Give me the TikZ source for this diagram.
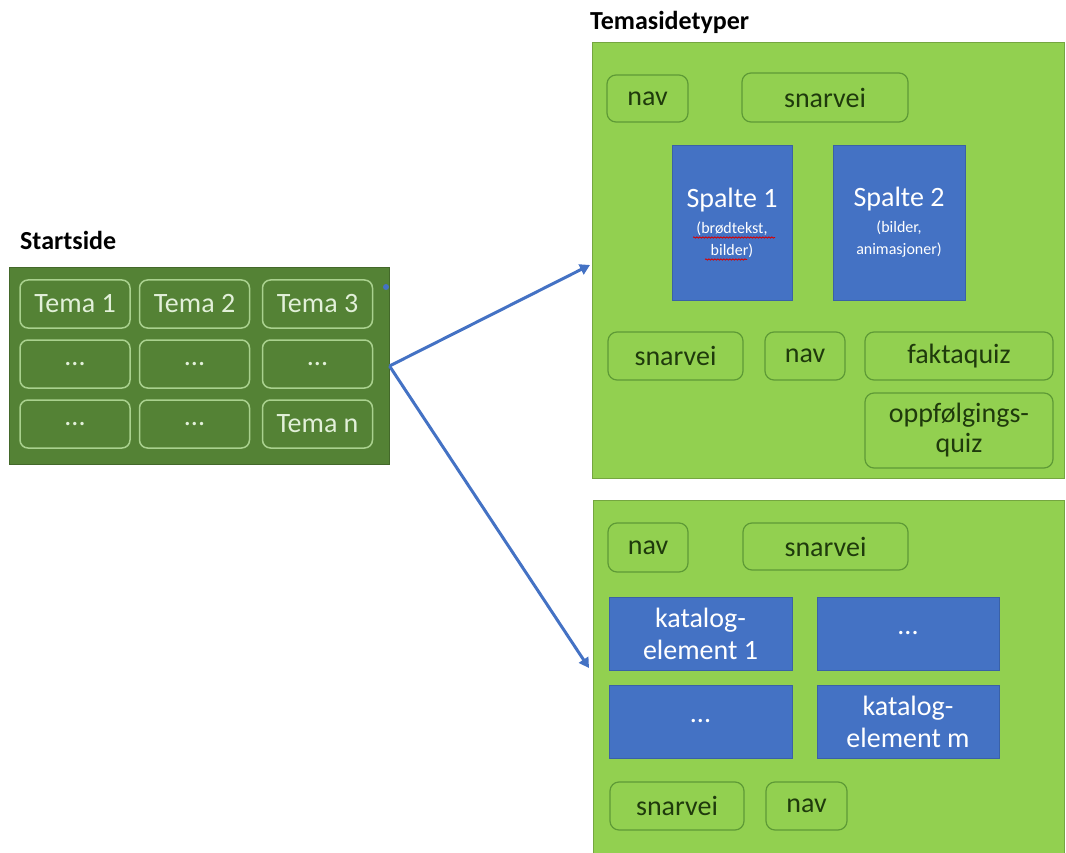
\documentclass[tikz,border=0pt]{standalone}
\usepackage{fontspec}
\setmainfont{Carlito}
\usetikzlibrary{arrows.meta,decorations.pathmorphing}
\definecolor{dkgreen}{HTML}{548235}
\definecolor{ltgreen}{HTML}{92D050}
\definecolor{blu}{HTML}{4472C4}
\definecolor{cellline}{HTML}{A9D18E}
\definecolor{celltext}{HTML}{E2F0D9}
\definecolor{boxtext}{HTML}{1F3A0C}
\definecolor{boxline}{HTML}{5E9A36}
\tikzset{
  panel/.style={draw=#1!80!black, fill=#1, line width=1pt, inner sep=0pt},
  heading/.style={anchor=west, font=\fontsize{26}{30}\selectfont\bfseries, inner sep=0pt},
  cell/.style={draw=cellline, rounded corners=8pt, line width=1.5pt, text=celltext,
    font=\fontsize{28}{30}\selectfont, inner sep=0pt},
  tag/.style={draw=boxline, rounded corners=9pt, line width=1.2pt, text=boxtext,
    font=\fontsize{28}{30}\selectfont, inner sep=0pt, align=center},
  blk/.style={fill=blu, draw=blu!85!black, line width=0.6pt, text=white,
    font=\fontsize{28}{32}\selectfont, inner sep=0pt, align=center},
  small/.style={},
  link/.style={draw=blu, line width=3pt, -{Triangle[length=10pt,width=11pt]}},
  squiggle/.style={draw=red!85!black, line width=0.8pt,
    decorate, decoration={snake, amplitude=0.7pt, segment length=3pt}}
}
\newcommand\smalltxt[1]{{\fontsize{16}{18}\selectfont #1}}
\begin{document}
\begin{tikzpicture}[x=1pt,y=-1pt]
\useasboundingbox (0,0) rectangle (1066,853);
\begin{scope}
\clip (0,0) rectangle (1066,853);
% headings
\node[heading] (lstart) at (20,240) {Startside};
\node[heading] (ltema) at (590,22) {Temasidetyper};

% start page
\node[panel=dkgreen, minimum width=380pt, minimum height=196pt] (start) at (199,366) {};
\node[cell, minimum width=110pt, minimum height=48pt] (c11) at (75,304) {Tema 1};
\node[cell, minimum width=110pt, minimum height=48pt] (c12) at (194.5,304) {Tema 2};
\node[cell, minimum width=110pt, minimum height=48pt] (c13) at (317.5,304) {Tema 3};
\node[cell, minimum width=110pt, minimum height=48pt] (c21) at (75,364) {...};
\node[cell, minimum width=110pt, minimum height=48pt] (c22) at (194.5,364) {...};
\node[cell, minimum width=110pt, minimum height=48pt] (c23) at (317.5,364) {...};
\node[cell, minimum width=110pt, minimum height=48pt] (c31) at (75,424) {...};
\node[cell, minimum width=110pt, minimum height=48pt] (c32) at (194.5,424) {...};
\node[cell, minimum width=110pt, minimum height=48pt] (c33) at (317.5,424) {Tema n};
\fill[blu] (386,287) circle (3pt);

% top theme page type
\node[panel=ltgreen, minimum width=472pt, minimum height=435pt] (top) at (828,260.5) {};
\node[tag, minimum width=81pt, minimum height=47pt] (tnav1) at (647.5,98.5) {nav};
\node[tag, minimum width=166pt, minimum height=49pt] (tsn1) at (825,97.5) {snarvei};
\node[blk, minimum width=120pt, minimum height=155pt] (sp1) at (732,222.5)
  {Spalte 1\\[-6pt]\smalltxt{(brødtekst,}\\[-10pt]\smalltxt{bilder)}};
\node[blk, minimum width=132pt, minimum height=155pt] (sp2) at (899,222.5)
  {Spalte 2\\[-6pt]\smalltxt{(bilder,}\\[-10pt]\smalltxt{animasjoner)}};
\node[tag, minimum width=135pt, minimum height=48pt] (tsn2) at (675.5,356) {snarvei};
\node[tag, minimum width=80pt, minimum height=48pt] (tnav2) at (805,356) {nav};
\node[tag, minimum width=188pt, minimum height=48pt] (tfq) at (959,356) {faktaquiz};
\node[tag, minimum width=188pt, minimum height=75pt] (tof) at (959,430.5) {oppfølgings-\\quiz};
\draw[squiggle] ([xshift=-39pt,yshift=-15pt]sp1.center) -- ([xshift=43pt,yshift=-15pt]sp1.center);
\draw[squiggle] ([xshift=-27pt,yshift=-37pt]sp1.center) -- ([xshift=15pt,yshift=-37pt]sp1.center);

% bottom theme page type
\node[panel=ltgreen, minimum width=471pt, minimum height=360pt] (bot) at (828.5,680) {};
\node[tag, minimum width=80pt, minimum height=49pt] (bnav1) at (648,547.5) {nav};
\node[tag, minimum width=165pt, minimum height=47pt] (bsn1) at (825.5,546.5) {snarvei};
\node[blk, minimum width=183pt, minimum height=73pt] (k1) at (700.5,633.5) {katalog-\\element 1};
\node[blk, minimum width=182pt, minimum height=73pt] (k2) at (908,633.5) {...};
\node[blk, minimum width=183pt, minimum height=73pt] (k3) at (700.5,721.5) {...};
\node[blk, minimum width=182pt, minimum height=73pt] (k4) at (908,721.5) {katalog-\\element m};
\node[tag, minimum width=134pt, minimum height=48pt] (bsn2) at (677,806) {snarvei};
\node[tag, minimum width=81pt, minimum height=48pt] (bnav2) at (806.5,806) {nav};

% connectors
\coordinate (topend) at (590,265);
\coordinate (botend) at (589,668);
\draw[link] (start.east) -- (topend);
\draw[link] (start.east) -- (botend);
\end{scope}
\end{tikzpicture}
\end{document}
